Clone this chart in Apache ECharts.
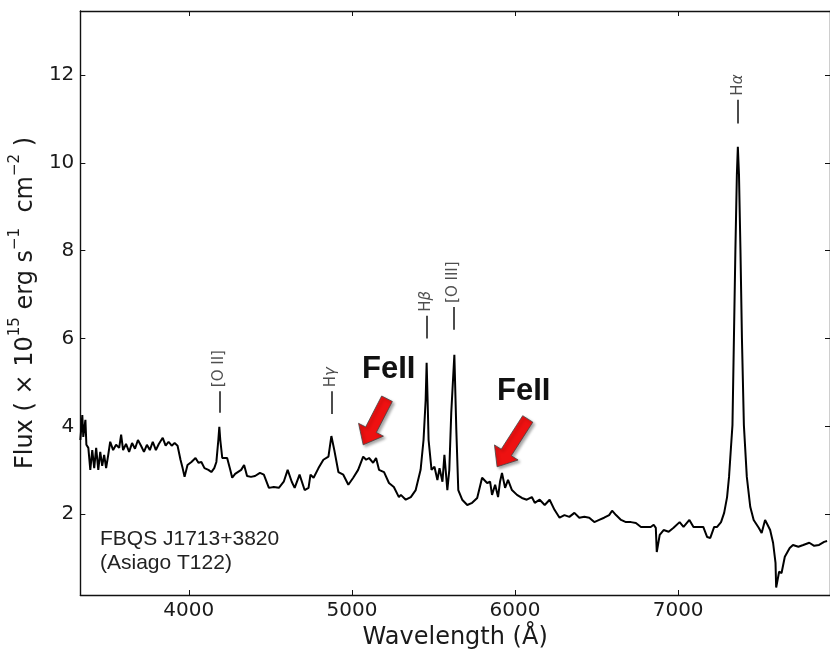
<!DOCTYPE html>
<html>
<head>
<meta charset="utf-8">
<script src="https://cdn.jsdelivr.net/npm/echarts@6/dist/echarts.min.js"></script>
<style>
html,body{margin:0;padding:0;background:#fff;}
#chart{width:830px;height:657px;}
</style>
</head>
<body>
<div id="chart"></div>
<script>
// ---- data ----
const wavelength = [3335,3347,3353,3366,3372,3384,3396,3408,3420,3432,3445,3457,3469,3481,3493,3506,3518,3536,3554,3573,
3585,3597,3615,3634,3652,3670,3688,3707,3725,3743,3761,3779,3798,3816,3840,3858,3876,3895,3913,3931,
3949,3962,3974,3992,4016,4041,4059,4077,4096,4120,4138,4156,4169,4181,4187,4193,4205,4217,4235,4254,4266,4284,
4296,4321,4339,4357,4381,4406,4436,4460,4491,4521,4552,4582,4606,4631,4649,4679,4710,4734,4746,4765,
4795,4825,4856,4874,4892,4917,4947,4978,5008,5038,5069,5087,5105,5130,5148,5166,5197,5227,5257,5288,
5300,5330,5361,5391,5421,5439,5452,5458,5464,5470,5488,5506,5524,5537,5555,5567,5585,5597,5609,5628,
5640,5652,5676,5707,5737,5768,5798,5829,5847,5859,5878,5896,5908,5920,5939,5957,5981,6012,6042,6072,
6103,6121,6151,6182,6212,6242,
6273,6303,6333,6364,6394,6425,6455,6486,6516,6546,6577,6595,6619,6650,6680,6711,6741,6772,6802,6832,
6850,6863,6869,6887,6911,6942,6972,7009,7033,7069,7094,7124,7154,7178,7197,7221,7239,7263,7282,7300,
7312,7324,7333,7342,7351,7360,7366,7373,7382,7391,7403,7421,7442,7463,7494,7512,7533,7548,7564,7582,
7597,7601,7619,7634,7654,7684,7704,7737,7767,7804,7834,7864,7895,7913];
const flux = [3.69,4.26,3.76,4.15,3.58,3.51,3.01,3.46,3.05,3.51,3.01,3.42,3.10,3.35,3.05,3.35,3.65,3.46,3.58,3.51,
3.81,3.46,3.60,3.42,3.62,3.49,3.69,3.56,3.42,3.58,3.46,3.65,3.46,3.60,3.74,3.56,3.65,3.56,3.62,3.56,
3.24,3.05,2.85,3.12,3.19,3.28,3.17,3.19,3.05,3.01,2.96,3.05,3.19,3.69,3.99,3.69,3.28,3.24,3.28,3.01,2.83,2.92,
2.90,3.01,3.12,2.87,2.85,2.87,2.94,2.90,2.60,2.62,2.60,2.74,3.01,2.74,2.60,2.90,2.55,2.60,2.90,2.83,
3.05,3.24,3.31,3.78,3.46,2.96,2.90,2.67,2.83,3.01,3.31,3.24,3.28,3.17,3.28,3.01,2.96,2.71,2.62,2.39,
2.44,2.33,2.39,2.55,3.01,3.69,4.60,5.45,4.60,3.69,3.01,3.08,2.78,3.05,2.74,3.35,2.55,3.01,4.31,5.63,
3.92,2.55,2.33,2.21,2.26,2.37,2.83,2.71,2.74,2.44,2.67,2.39,2.74,2.94,2.60,2.78,2.55,2.44,2.37,2.33,
2.39,2.26,2.33,2.21,2.33,2.10,
1.92,1.98,1.94,2.03,1.92,1.94,1.92,1.82,1.87,1.92,1.98,2.08,1.98,1.87,1.82,1.82,1.80,1.71,1.71,1.71,
1.76,1.69,1.14,1.53,1.64,1.60,1.69,1.82,1.71,1.87,1.71,1.71,1.71,1.48,1.46,1.71,1.71,1.82,2.03,2.39,
2.85,3.53,4.03,6.02,8.02,9.73,10.37,9.73,8.02,6.02,4.03,2.85,2.17,1.87,1.69,1.57,1.87,1.76,1.64,1.35,
0.89,0.33,0.69,0.66,1.03,1.23,1.30,1.26,1.30,1.35,1.28,1.30,1.37,1.39];

const xTicks = [4000, 5000, 6000, 7000];
const yTicks = [2, 4, 6, 8, 10, 12];

// emission-line markers
const lineNames = ['[O II]', 'H{g|γ}', 'H{g|β}', '[O III]', 'H{g|α}'];
const lineWave  = [4188, 4874, 5458, 5622, 7366];
const tickLow   = [4.31, 4.28, 6.00, 6.20, 10.90];
const tickHigh  = [4.80, 4.80, 6.52, 6.72, 11.44];

// FeII arrows (data coords): tail -> tip
const arrowTail = [[5215, 4.63], [6078, 4.17]];
const arrowTip  = [[5069, 3.58], [5890, 3.08]];

const font = 'DejaVu Sans';
const chart = echarts.init(document.getElementById('chart'), null, {renderer: 'canvas'});

const spec = wavelength.map((w, i) => [w, flux[i]]);
const XMIN = 3335, XMAX = 7931, YMIN = 0.16, YMAX = 13.46;

const option = {
  animation: false,
  backgroundColor: '#fff',
  grid: {left: 78, top: 11, width: 756, height: 584, containLabel: false},
  xAxis: [{
    type: 'value', min: XMIN, max: XMAX, position: 'bottom',
    axisLine: {lineStyle: {color: '#111', width: 1.4}},
    axisTick: {inside: true, length: 5, customValues: xTicks, lineStyle: {color: '#111', width: 1}},
    axisLabel: {customValues: xTicks, formatter: v => String(v), fontSize: 20, fontFamily: font, color: '#1a1a1a', margin: 6},
    splitLine: {show: false},
    name: 'Wavelength (Å)', nameLocation: 'middle', nameGap: 31,
    nameTextStyle: {fontSize: 24, fontFamily: font, color: '#1a1a1a'}
  }, {
    type: 'value', min: XMIN, max: XMAX, position: 'top',
    axisLine: {lineStyle: {color: '#111', width: 1.4}},
    axisTick: {inside: true, length: 5, customValues: xTicks, lineStyle: {color: '#111', width: 1}},
    axisLabel: {show: false}, splitLine: {show: false}
  }],
  yAxis: [{
    type: 'value', min: YMIN, max: YMAX, position: 'left',
    axisLine: {lineStyle: {color: '#111', width: 1.4}},
    axisTick: {inside: true, length: 5, customValues: yTicks, lineStyle: {color: '#111', width: 1}},
    axisLabel: {customValues: yTicks, formatter: v => String(v), fontSize: 20, fontFamily: font, color: '#1a1a1a', margin: 6},
    splitLine: {show: false},
    name: '{n|Flux ( × 10}{s|15}{n| erg s}{s|−1}{n|  cm}{s|−2}{n| )}',
    nameLocation: 'middle', nameGap: 38, nameRotate: 90,
    nameTextStyle: {
      fontFamily: font, color: '#1a1a1a',
      rich: {
        n: {fontSize: 24, fontFamily: font, color: '#1a1a1a', lineHeight: 30, verticalAlign: 'bottom'},
        s: {fontSize: 15, fontFamily: font, color: '#1a1a1a', lineHeight: 30, verticalAlign: 'top'}
      }
    }
  }, {
    type: 'value', min: YMIN, max: YMAX, position: 'right',
    axisLine: {lineStyle: {color: '#111', width: 1.4}},
    axisTick: {inside: true, length: 5, customValues: yTicks, lineStyle: {color: '#111', width: 1}},
    axisLabel: {show: false}, splitLine: {show: false}
  }],
  series: [{
    type: 'line', data: spec, xAxisIndex: 0, yAxisIndex: 0,
    showSymbol: false, symbol: 'none',
    lineStyle: {color: '#000', width: 2},
    markLine: {
      silent: true, symbol: 'none', animation: false,
      lineStyle: {color: '#111', width: 1.5, type: 'solid'},
      label: {show: false},
      data: lineWave.map((w, i) => [{coord: [w, tickLow[i]]}, {coord: [w, tickHigh[i]]}])
    }
  }, {
    type: 'scatter', xAxisIndex: 0, yAxisIndex: 0,
    symbolSize: 0.1, itemStyle: {color: 'rgba(0,0,0,0)'},
    data: lineWave.map((w, i) => ({value: [w, tickHigh[i]], name: lineNames[i]})),
    label: {
      show: true, position: [0, -4], rotate: 90, align: 'left', verticalAlign: 'middle',
      formatter: p => p.name,
      fontSize: 15, fontFamily: font, color: '#222',
      rich: {g: {fontSize: 15, fontFamily: font, fontStyle: 'italic', color: '#222'}}
    }
  }],
  graphic: [{
    type: 'text', left: 100, top: 527,
    style: {text: 'FBQS J1713+3820\n(Asiago T122)', font: '21px "Liberation Sans"', lineHeight: 24, fill: '#222'}
  }, {
    type: 'text', left: 362, top: 354,
    style: {text: 'FeII', font: 'bold 31px "Liberation Sans"', fill: '#111',
      shadowColor: 'rgba(0,0,0,0.35)', shadowBlur: 3, shadowOffsetX: 2, shadowOffsetY: 2}
  }, {
    type: 'text', left: 497, top: 376,
    style: {text: 'FeII', font: 'bold 31px "Liberation Sans"', fill: '#111',
      shadowColor: 'rgba(0,0,0,0.35)', shadowBlur: 3, shadowOffsetX: 2, shadowOffsetY: 2}
  }]
};
chart.setOption(option);

// arrows built from data coordinates
function arrowPoly(tail, tip) {
  const c = chart.convertToPixel({gridIndex: 0}, tail);
  const t = chart.convertToPixel({gridIndex: 0}, tip);
  const dx = t[0] - c[0], dy = t[1] - c[1];
  const L = Math.hypot(dx, dy);
  const ux = dx / L, uy = dy / L, nx = -uy, ny = ux;
  const hl = 17, w1 = 6, w2 = 14;
  const b = [t[0] - ux * hl, t[1] - uy * hl];
  return [
    [c[0] + nx * w1, c[1] + ny * w1], [b[0] + nx * w1, b[1] + ny * w1], [b[0] + nx * w2, b[1] + ny * w2],
    t, [b[0] - nx * w2, b[1] - ny * w2], [b[0] - nx * w1, b[1] - ny * w1], [c[0] - nx * w1, c[1] - ny * w1]
  ];
}
const arrows = arrowTail.map((tl, i) => ({
  type: 'polygon', z: 100,
  shape: {points: arrowPoly(tl, arrowTip[i])},
  style: {fill: '#ee1111', stroke: '#444', lineWidth: 0.8,
    shadowColor: 'rgba(0,0,0,0.35)', shadowBlur: 3, shadowOffsetX: 2, shadowOffsetY: 2}
}));
chart.setOption({graphic: option.graphic.concat(arrows)});
</script>
</body>
</html>
